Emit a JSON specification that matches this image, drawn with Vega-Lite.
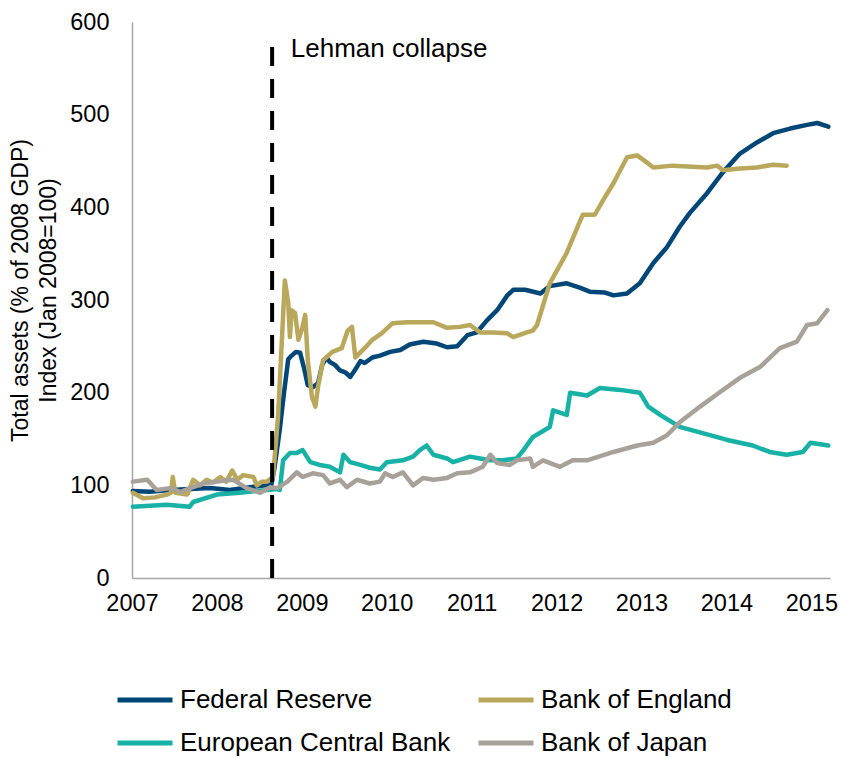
{
  "$schema": "https://vega.github.io/schema/vega-lite/v6.json",
  "width": 698,
  "height": 556,
  "autosize": {"type": "none"},
  "padding": {"left": 132, "top": 22, "right": 11, "bottom": 180},
  "config": {
    "font": "Liberation Sans",
    "view": {"stroke": null},
    "axis": {"grid": false, "ticks": false, "domainColor": "#a6a6a6", "domainWidth": 1.5, "labelColor": "#000000", "labelFont": "Liberation Sans", "labelFontSize": 23.5, "titleFont": "Liberation Sans", "titleFontWeight": "normal", "titleColor": "#000000"}
  },
  "layer": [
    {
      "data": {"values": [
        {"s":"Federal Reserve","t":2007.01,"v":94},{"s":"Federal Reserve","t":2007.21,"v":93},{"s":"Federal Reserve","t":2007.45,"v":95},{"s":"Federal Reserve","t":2007.68,"v":96},{"s":"Federal Reserve","t":2007.92,"v":97},{"s":"Federal Reserve","t":2008.15,"v":95},{"s":"Federal Reserve","t":2008.39,"v":98},{"s":"Federal Reserve","t":2008.57,"v":100},{"s":"Federal Reserve","t":2008.64,"v":100},{"s":"Federal Reserve","t":2008.68,"v":120},{"s":"Federal Reserve","t":2008.74,"v":160},{"s":"Federal Reserve","t":2008.79,"v":200},{"s":"Federal Reserve","t":2008.84,"v":236},{"s":"Federal Reserve","t":2008.88,"v":240},{"s":"Federal Reserve","t":2008.93,"v":244},{"s":"Federal Reserve","t":2008.98,"v":243},{"s":"Federal Reserve","t":2009.03,"v":225},{"s":"Federal Reserve","t":2009.07,"v":208},{"s":"Federal Reserve","t":2009.13,"v":206},{"s":"Federal Reserve","t":2009.19,"v":210},{"s":"Federal Reserve","t":2009.24,"v":230},{"s":"Federal Reserve","t":2009.29,"v":238},{"s":"Federal Reserve","t":2009.33,"v":233},{"s":"Federal Reserve","t":2009.39,"v":230},{"s":"Federal Reserve","t":2009.45,"v":224},{"s":"Federal Reserve","t":2009.51,"v":222},{"s":"Federal Reserve","t":2009.57,"v":217},{"s":"Federal Reserve","t":2009.63,"v":225},{"s":"Federal Reserve","t":2009.69,"v":234},{"s":"Federal Reserve","t":2009.74,"v":232},{"s":"Federal Reserve","t":2009.83,"v":238},{"s":"Federal Reserve","t":2009.92,"v":240},{"s":"Federal Reserve","t":2010.04,"v":244},{"s":"Federal Reserve","t":2010.16,"v":246},{"s":"Federal Reserve","t":2010.27,"v":252},{"s":"Federal Reserve","t":2010.43,"v":255},{"s":"Federal Reserve","t":2010.59,"v":253},{"s":"Federal Reserve","t":2010.71,"v":249},{"s":"Federal Reserve","t":2010.83,"v":250},{"s":"Federal Reserve","t":2010.95,"v":262},{"s":"Federal Reserve","t":2011.06,"v":265},{"s":"Federal Reserve","t":2011.18,"v":278},{"s":"Federal Reserve","t":2011.3,"v":289},{"s":"Federal Reserve","t":2011.42,"v":305},{"s":"Federal Reserve","t":2011.49,"v":311},{"s":"Federal Reserve","t":2011.63,"v":311},{"s":"Federal Reserve","t":2011.81,"v":307},{"s":"Federal Reserve","t":2011.92,"v":315},{"s":"Federal Reserve","t":2012.12,"v":318},{"s":"Federal Reserve","t":2012.28,"v":313},{"s":"Federal Reserve","t":2012.39,"v":309},{"s":"Federal Reserve","t":2012.57,"v":308},{"s":"Federal Reserve","t":2012.67,"v":305},{"s":"Federal Reserve","t":2012.83,"v":307},{"s":"Federal Reserve","t":2012.98,"v":318},{"s":"Federal Reserve","t":2013.14,"v":340},{"s":"Federal Reserve","t":2013.3,"v":357},{"s":"Federal Reserve","t":2013.45,"v":379},{"s":"Federal Reserve","t":2013.57,"v":394},{"s":"Federal Reserve","t":2013.77,"v":415},{"s":"Federal Reserve","t":2013.96,"v":438},{"s":"Federal Reserve","t":2014.16,"v":458},{"s":"Federal Reserve","t":2014.36,"v":470},{"s":"Federal Reserve","t":2014.55,"v":480},{"s":"Federal Reserve","t":2014.75,"v":485},{"s":"Federal Reserve","t":2014.95,"v":489},{"s":"Federal Reserve","t":2015.07,"v":491},{"s":"Federal Reserve","t":2015.2,"v":487},
        {"s":"Bank of England","t":2007.01,"v":92},{"s":"Bank of England","t":2007.13,"v":86},{"s":"Bank of England","t":2007.27,"v":87},{"s":"Bank of England","t":2007.41,"v":90},{"s":"Bank of England","t":2007.46,"v":92},{"s":"Bank of England","t":2007.48,"v":109},{"s":"Bank of England","t":2007.51,"v":92},{"s":"Bank of England","t":2007.65,"v":90},{"s":"Bank of England","t":2007.72,"v":106},{"s":"Bank of England","t":2007.8,"v":100},{"s":"Bank of England","t":2007.88,"v":106},{"s":"Bank of England","t":2007.95,"v":103},{"s":"Bank of England","t":2008.04,"v":109},{"s":"Bank of England","t":2008.11,"v":104},{"s":"Bank of England","t":2008.18,"v":116},{"s":"Bank of England","t":2008.24,"v":106},{"s":"Bank of England","t":2008.31,"v":111},{"s":"Bank of England","t":2008.43,"v":109},{"s":"Bank of England","t":2008.47,"v":100},{"s":"Bank of England","t":2008.53,"v":104},{"s":"Bank of England","t":2008.59,"v":104},{"s":"Bank of England","t":2008.66,"v":109},{"s":"Bank of England","t":2008.72,"v":174},{"s":"Bank of England","t":2008.8,"v":321},{"s":"Bank of England","t":2008.84,"v":297},{"s":"Bank of England","t":2008.86,"v":260},{"s":"Bank of England","t":2008.88,"v":289},{"s":"Bank of England","t":2008.92,"v":286},{"s":"Bank of England","t":2008.96,"v":257},{"s":"Bank of England","t":2009.0,"v":268},{"s":"Bank of England","t":2009.04,"v":284},{"s":"Bank of England","t":2009.07,"v":235},{"s":"Bank of England","t":2009.12,"v":195},{"s":"Bank of England","t":2009.16,"v":185},{"s":"Bank of England","t":2009.19,"v":206},{"s":"Bank of England","t":2009.25,"v":235},{"s":"Bank of England","t":2009.36,"v":244},{"s":"Bank of England","t":2009.47,"v":248},{"s":"Bank of England","t":2009.54,"v":267},{"s":"Bank of England","t":2009.59,"v":271},{"s":"Bank of England","t":2009.63,"v":238},{"s":"Bank of England","t":2009.74,"v":248},{"s":"Bank of England","t":2009.83,"v":257},{"s":"Bank of England","t":2009.94,"v":264},{"s":"Bank of England","t":2010.07,"v":275},{"s":"Bank of England","t":2010.24,"v":276},{"s":"Bank of England","t":2010.39,"v":276},{"s":"Bank of England","t":2010.55,"v":276},{"s":"Bank of England","t":2010.71,"v":270},{"s":"Bank of England","t":2010.86,"v":271},{"s":"Bank of England","t":2010.98,"v":273},{"s":"Bank of England","t":2011.1,"v":265},{"s":"Bank of England","t":2011.25,"v":265},{"s":"Bank of England","t":2011.42,"v":264},{"s":"Bank of England","t":2011.49,"v":260},{"s":"Bank of England","t":2011.65,"v":265},{"s":"Bank of England","t":2011.72,"v":267},{"s":"Bank of England","t":2011.77,"v":273},{"s":"Bank of England","t":2011.92,"v":318},{"s":"Bank of England","t":2012.12,"v":351},{"s":"Bank of England","t":2012.28,"v":386},{"s":"Bank of England","t":2012.31,"v":392},{"s":"Bank of England","t":2012.45,"v":392},{"s":"Bank of England","t":2012.55,"v":408},{"s":"Bank of England","t":2012.67,"v":426},{"s":"Bank of England","t":2012.83,"v":454},{"s":"Bank of England","t":2012.95,"v":456},{"s":"Bank of England","t":2013.07,"v":448},{"s":"Bank of England","t":2013.14,"v":443},{"s":"Bank of England","t":2013.37,"v":445},{"s":"Bank of England","t":2013.77,"v":443},{"s":"Bank of England","t":2013.89,"v":445},{"s":"Bank of England","t":2013.96,"v":440},{"s":"Bank of England","t":2014.16,"v":442},{"s":"Bank of England","t":2014.36,"v":443},{"s":"Bank of England","t":2014.55,"v":446},{"s":"Bank of England","t":2014.71,"v":445},
        {"s":"European Central Bank","t":2007.01,"v":77},{"s":"European Central Bank","t":2007.41,"v":79},{"s":"European Central Bank","t":2007.68,"v":77},{"s":"European Central Bank","t":2007.72,"v":82},{"s":"European Central Bank","t":2008.0,"v":90},{"s":"European Central Bank","t":2008.27,"v":92},{"s":"European Central Bank","t":2008.59,"v":95},{"s":"European Central Bank","t":2008.71,"v":96},{"s":"European Central Bank","t":2008.74,"v":95},{"s":"European Central Bank","t":2008.78,"v":127},{"s":"European Central Bank","t":2008.86,"v":135},{"s":"European Central Bank","t":2008.94,"v":135},{"s":"European Central Bank","t":2009.01,"v":138},{"s":"European Central Bank","t":2009.1,"v":125},{"s":"European Central Bank","t":2009.21,"v":122},{"s":"European Central Bank","t":2009.33,"v":120},{"s":"European Central Bank","t":2009.45,"v":114},{"s":"European Central Bank","t":2009.49,"v":133},{"s":"European Central Bank","t":2009.57,"v":125},{"s":"European Central Bank","t":2009.69,"v":122},{"s":"European Central Bank","t":2009.8,"v":119},{"s":"European Central Bank","t":2009.92,"v":117},{"s":"European Central Bank","t":2010.0,"v":125},{"s":"European Central Bank","t":2010.19,"v":127},{"s":"European Central Bank","t":2010.31,"v":131},{"s":"European Central Bank","t":2010.39,"v":138},{"s":"European Central Bank","t":2010.47,"v":143},{"s":"European Central Bank","t":2010.55,"v":133},{"s":"European Central Bank","t":2010.71,"v":129},{"s":"European Central Bank","t":2010.78,"v":125},{"s":"European Central Bank","t":2010.98,"v":131},{"s":"European Central Bank","t":2011.1,"v":129},{"s":"European Central Bank","t":2011.22,"v":127},{"s":"European Central Bank","t":2011.37,"v":127},{"s":"European Central Bank","t":2011.53,"v":129},{"s":"European Central Bank","t":2011.61,"v":138},{"s":"European Central Bank","t":2011.72,"v":152},{"s":"European Central Bank","t":2011.92,"v":163},{"s":"European Central Bank","t":2011.96,"v":181},{"s":"European Central Bank","t":2012.12,"v":176},{"s":"European Central Bank","t":2012.16,"v":200},{"s":"European Central Bank","t":2012.36,"v":197},{"s":"European Central Bank","t":2012.51,"v":205},{"s":"European Central Bank","t":2012.75,"v":203},{"s":"European Central Bank","t":2012.98,"v":200},{"s":"European Central Bank","t":2013.08,"v":185},{"s":"European Central Bank","t":2013.22,"v":176},{"s":"European Central Bank","t":2013.45,"v":163},{"s":"European Central Bank","t":2013.73,"v":156},{"s":"European Central Bank","t":2014.01,"v":149},{"s":"European Central Bank","t":2014.31,"v":143},{"s":"European Central Bank","t":2014.51,"v":136},{"s":"European Central Bank","t":2014.71,"v":133},{"s":"European Central Bank","t":2014.9,"v":136},{"s":"European Central Bank","t":2014.99,"v":146},{"s":"European Central Bank","t":2015.2,"v":143},
        {"s":"Bank of Japan","t":2007.01,"v":104},{"s":"Bank of Japan","t":2007.18,"v":106},{"s":"Bank of Japan","t":2007.29,"v":95},{"s":"Bank of Japan","t":2007.45,"v":97},{"s":"Bank of Japan","t":2007.57,"v":93},{"s":"Bank of Japan","t":2007.72,"v":98},{"s":"Bank of Japan","t":2007.84,"v":102},{"s":"Bank of Japan","t":2008.0,"v":104},{"s":"Bank of Japan","t":2008.19,"v":106},{"s":"Bank of Japan","t":2008.35,"v":97},{"s":"Bank of Japan","t":2008.51,"v":92},{"s":"Bank of Japan","t":2008.63,"v":98},{"s":"Bank of Japan","t":2008.71,"v":97},{"s":"Bank of Japan","t":2008.83,"v":104},{"s":"Bank of Japan","t":2008.94,"v":114},{"s":"Bank of Japan","t":2009.01,"v":109},{"s":"Bank of Japan","t":2009.13,"v":113},{"s":"Bank of Japan","t":2009.25,"v":111},{"s":"Bank of Japan","t":2009.33,"v":102},{"s":"Bank of Japan","t":2009.45,"v":106},{"s":"Bank of Japan","t":2009.53,"v":98},{"s":"Bank of Japan","t":2009.65,"v":106},{"s":"Bank of Japan","t":2009.8,"v":102},{"s":"Bank of Japan","t":2009.92,"v":104},{"s":"Bank of Japan","t":2009.98,"v":113},{"s":"Bank of Japan","t":2010.07,"v":109},{"s":"Bank of Japan","t":2010.19,"v":114},{"s":"Bank of Japan","t":2010.31,"v":100},{"s":"Bank of Japan","t":2010.43,"v":108},{"s":"Bank of Japan","t":2010.55,"v":106},{"s":"Bank of Japan","t":2010.71,"v":108},{"s":"Bank of Japan","t":2010.83,"v":113},{"s":"Bank of Japan","t":2010.98,"v":114},{"s":"Bank of Japan","t":2011.13,"v":120},{"s":"Bank of Japan","t":2011.22,"v":133},{"s":"Bank of Japan","t":2011.3,"v":124},{"s":"Bank of Japan","t":2011.45,"v":122},{"s":"Bank of Japan","t":2011.53,"v":127},{"s":"Bank of Japan","t":2011.69,"v":129},{"s":"Bank of Japan","t":2011.72,"v":120},{"s":"Bank of Japan","t":2011.84,"v":127},{"s":"Bank of Japan","t":2012.04,"v":120},{"s":"Bank of Japan","t":2012.19,"v":127},{"s":"Bank of Japan","t":2012.36,"v":127},{"s":"Bank of Japan","t":2012.67,"v":136},{"s":"Bank of Japan","t":2012.95,"v":143},{"s":"Bank of Japan","t":2013.14,"v":146},{"s":"Bank of Japan","t":2013.3,"v":154},{"s":"Bank of Japan","t":2013.45,"v":168},{"s":"Bank of Japan","t":2013.69,"v":185},{"s":"Bank of Japan","t":2013.93,"v":201},{"s":"Bank of Japan","t":2014.16,"v":216},{"s":"Bank of Japan","t":2014.4,"v":228},{"s":"Bank of Japan","t":2014.63,"v":248},{"s":"Bank of Japan","t":2014.83,"v":255},{"s":"Bank of Japan","t":2014.95,"v":273},{"s":"Bank of Japan","t":2015.07,"v":275},{"s":"Bank of Japan","t":2015.19,"v":289}
      ]},
      "mark": {"type": "line", "strokeWidth": 4.5, "strokeJoin": "round", "strokeCap": "round"},
      "encoding": {
        "x": {"field": "t", "type": "quantitative", "scale": {"domain": [2007, 2015.22], "nice": false, "zero": false},
              "axis": {"title": null, "values": [2007,2008,2009,2010,2011,2012,2013,2014,2015], "format": "d", "labelPadding": 13, "labelOverlap": false, "labelBound": false, "labelFlush": false}},
        "y": {"field": "v", "type": "quantitative", "scale": {"domain": [0, 600], "nice": false},
              "axis": {"title": ["Total assets (% of 2008 GDP)", "Index (Jan 2008=100)"], "titleFontSize": 23, "titleLineHeight": 28, "titleX": -123, "titleY": 268, "titleBaseline": "top", "titleAlign": "center", "values": [0,100,200,300,400,500,600], "labelPadding": 23, "labelBound": false, "labelFlush": false, "labelOverlap": false}},
        "color": {"field": "s", "type": "nominal",
                  "scale": {"domain": ["Federal Reserve", "Bank of England", "European Central Bank", "Bank of Japan"], "range": ["#004677", "#b9a85c", "#17b1a6", "#a8a19a"]},
                  "legend": {"title": null, "orient": "none", "legendX": -17, "legendY": 648, "columns": 2, "direction": "horizontal", "symbolType": "stroke", "symbolSize": 3025, "symbolStrokeWidth": 5, "labelFontSize": 26, "labelColor": "#000000", "labelOffset": 5, "rowPadding": -10, "columnPadding": 17, "labelLimit": 400}}
      }
    },
    {
      "data": {"values": [{"t": 2008.65, "v": 573, "v2": 0}]},
      "mark": {"type": "rule", "color": "#000000", "strokeWidth": 4, "strokeDash": [19, 13]},
      "encoding": {"x": {"field": "t", "type": "quantitative"}, "y": {"field": "v", "type": "quantitative"}, "y2": {"field": "v2"}}
    },
    {
      "data": {"values": [{"t": 2008.87, "v": 562, "label": "Lehman collapse"}]},
      "mark": {"type": "text", "align": "left", "baseline": "alphabetic", "fontSize": 26, "color": "#000000"},
      "encoding": {"x": {"field": "t", "type": "quantitative"}, "y": {"field": "v", "type": "quantitative"}, "text": {"field": "label"}}
    }
  ]
}
